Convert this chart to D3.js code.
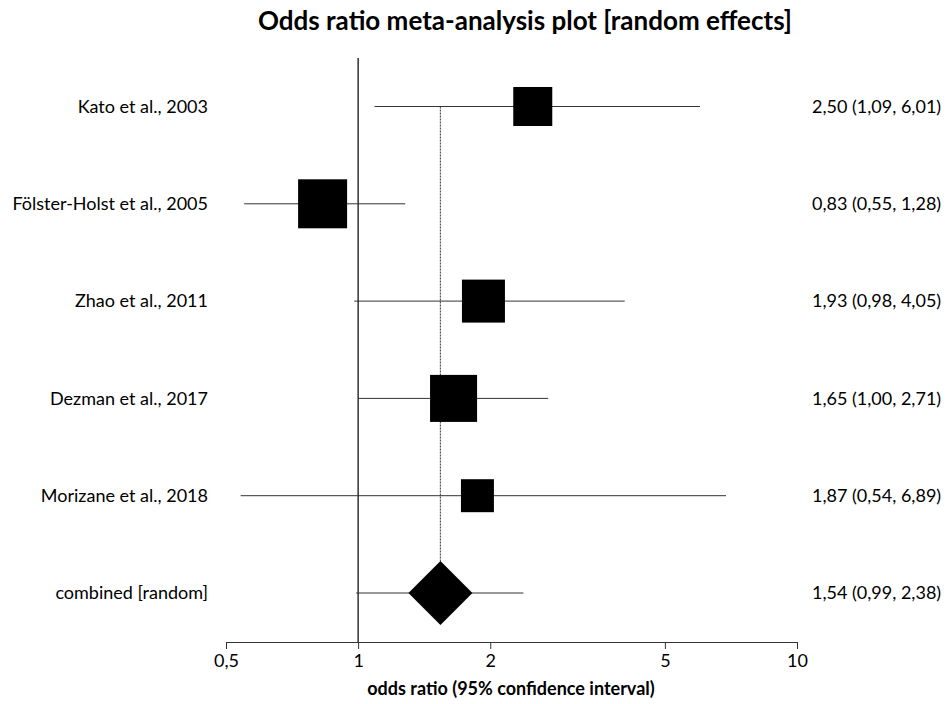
<!DOCTYPE html>
<html>
<head>
<meta charset="utf-8">
<script src="https://cdn.jsdelivr.net/npm/d3@7"></script>
<style>
    body { margin: 0; background: #fff; }
    text { font-family: Lato, "Open Sans", sans-serif; fill: #000; }
</style>
</head>
<body>
<div id="forest-chart"></div>
<script>
// studies, point estimates and 95% CI
var gStudies = ["Kato et al., 2003", "Fölster-Holst et al., 2005", "Zhao et al., 2011",
                "Dezman et al., 2017", "Morizane et al., 2018"];
var gOddsRatio = [2.50, 0.83, 1.93, 1.65, 1.87];
var gLower = [1.09, 0.55, 0.98, 1.00, 0.54];
var gUpper = [6.01, 1.28, 4.05, 2.71, 6.89];
// relative weights (%)
var gWeights = [16.8, 26.5, 20.4, 24.4, 12.0];

var gCombinedLabel = "combined [random]";
var gCombined = [1.54, 0.99, 2.38];

var gTicks = [0.5, 1, 2, 5, 10];

var gSettings = {
    width : 947,
    height : 704,
    xLeft : 226,
    xRight : 797,
    yFirst : 106.5,
    yLast : 593,
    axisY : 642,
    topY : 58
};

function fmt(v){
    return d3.format(".2f")(v).replace(".", ",");
}

function drawForest(){
    var s = gSettings;
    var svg = d3.select("#forest-chart").append("svg")
        .attr("width", s.width)
        .attr("height", s.height);

    var x = d3.scaleLog().domain([0.5, 10]).range([s.xLeft, s.xRight]);
    var rows = gStudies.concat([gCombinedLabel]);
    var y = d3.scalePoint().domain(rows).range([s.yFirst, s.yLast]);
    var side = d3.scaleSqrt().domain([0, d3.max(gWeights)]).range([0, 49]);

    var studies = gStudies.map(function(name, i){
        return { name : name, or : gOddsRatio[i], lo : gLower[i], hi : gUpper[i], w : gWeights[i] };
    });

    //title
    svg.append("text")
        .attr("x", 525).attr("y", 30)
        .attr("text-anchor", "middle")
        .style("font-size", "26px").style("font-weight", "bold")
        .text("Odds ratio meta-analysis plot [random effects]");

    //line of no effect
    svg.append("line")
        .attr("x1", x(1)).attr("x2", x(1))
        .attr("y1", s.topY).attr("y2", s.axisY)
        .attr("stroke", "#000").attr("stroke-width", 1.2);

    //pooled estimate (dotted)
    svg.append("line")
        .attr("x1", x(gCombined[0])).attr("x2", x(gCombined[0]))
        .attr("y1", y(gStudies[0])).attr("y2", y(gCombinedLabel) - 32)
        .attr("stroke", "#555").attr("stroke-width", 1.2)
        .attr("stroke-dasharray", "2,1");

    //CI lines
    svg.selectAll(".ci").data(studies).enter().append("line")
        .attr("class", "ci")
        .attr("x1", function(d){ return x(d.lo); })
        .attr("x2", function(d){ return x(d.hi); })
        .attr("y1", function(d){ return y(d.name); })
        .attr("y2", function(d){ return y(d.name); })
        .attr("stroke", "#333").attr("stroke-width", 1);

    //boxes
    svg.selectAll(".box").data(studies).enter().append("rect")
        .attr("class", "box")
        .attr("x", function(d){ return x(d.or) - side(d.w) / 2; })
        .attr("y", function(d){ return y(d.name) - side(d.w) / 2; })
        .attr("width", function(d){ return side(d.w); })
        .attr("height", function(d){ return side(d.w); })
        .attr("fill", "#000");

    //combined CI + diamond
    var cy = y(gCombinedLabel);
    svg.append("line")
        .attr("x1", x(gCombined[1])).attr("x2", x(gCombined[2]))
        .attr("y1", cy).attr("y2", cy)
        .attr("stroke", "#333").attr("stroke-width", 1);
    var cx = x(gCombined[0]), half = 32;
    svg.append("path")
        .attr("d", "M" + (cx - half) + "," + cy + "L" + cx + "," + (cy - half) +
                   "L" + (cx + half) + "," + cy + "L" + cx + "," + (cy + half) + "Z")
        .attr("fill", "#000");

    //left labels
    svg.selectAll(".lbl").data(rows).enter().append("text")
        .attr("class", "lbl")
        .attr("x", 208)
        .attr("y", function(d){ return y(d); })
        .attr("dy", "0.35em")
        .attr("text-anchor", "end")
        .style("font-size", "18px")
        .text(function(d){ return d; });

    //right labels
    var rightText = studies.map(function(d){
        return fmt(d.or) + " (" + fmt(d.lo) + ", " + fmt(d.hi) + ")";
    }).concat([fmt(gCombined[0]) + " (" + fmt(gCombined[1]) + ", " + fmt(gCombined[2]) + ")"]);
    svg.selectAll(".val").data(rows).enter().append("text")
        .attr("class", "val")
        .attr("x", 812)
        .attr("y", function(d){ return y(d); })
        .attr("dy", "0.35em")
        .style("font-size", "18px")
        .text(function(d, i){ return rightText[i]; });

    //x axis
    var axis = d3.axisBottom(x)
        .tickValues(gTicks)
        .tickSize(7)
        .tickPadding(5)
        .tickFormat(function(d){ return String(d).replace(".", ","); });
    var g = svg.append("g")
        .attr("transform", "translate(0," + s.axisY + ")")
        .call(axis);
    g.selectAll("text").style("font-size", "18px").style("font-family", "Lato, sans-serif");
    g.selectAll("path, line").attr("stroke", "#333");

    svg.append("text")
        .attr("x", 511).attr("y", 695)
        .attr("text-anchor", "middle")
        .style("font-size", "18px").style("font-weight", "bold")
        .text("odds ratio (95% confidence interval)");
}

drawForest();
</script>
</body>
</html>
